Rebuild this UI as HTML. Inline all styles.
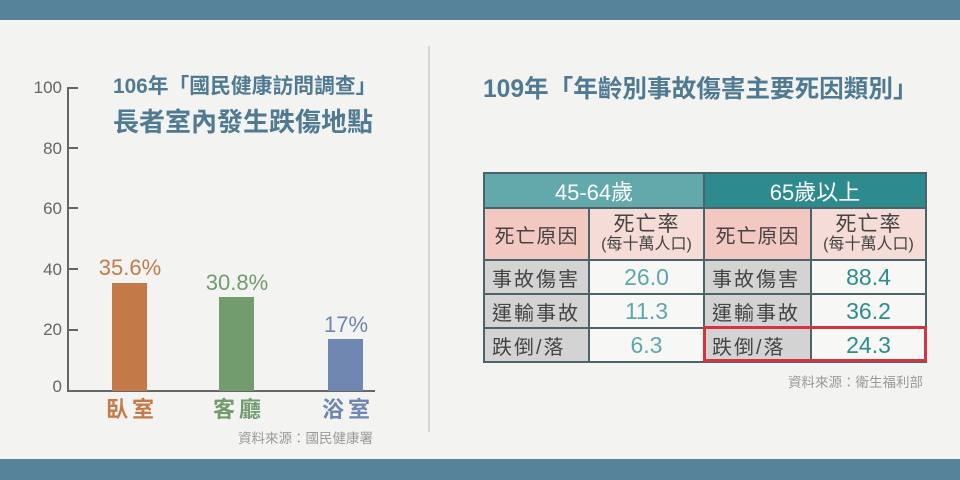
<!DOCTYPE html>
<html><head><meta charset="utf-8">
<style>
*{margin:0;padding:0;box-sizing:border-box}
body{width:960px;height:480px;background:#f3f3f1;position:relative;overflow:hidden;font-family:"Liberation Sans","Noto Sans CJK TC",sans-serif}
.band{position:absolute;left:0;width:960px;background:#56839a}
.abs{position:absolute;white-space:nowrap}
.tick{position:absolute;width:58px;text-align:right;left:4px;font-size:17px;color:#666;line-height:20px}
.tk{position:absolute;left:68px;width:10px;height:2px;background:#666}
.bar{position:absolute;width:35px}
.val{position:absolute;width:120px;text-align:center;font-size:22px;line-height:24px}
.cat{position:absolute;width:120px;text-align:center;font-size:22px;font-weight:bold;letter-spacing:4px;line-height:26px}
table{position:absolute;left:483px;top:172px;border-collapse:collapse;font-family:"Liberation Sans","Noto Sans CJK TC",sans-serif}
td{border:2px solid #4b6469;text-align:center;padding:0;color:#444}
.h1{background:#63a9ac;color:#fff;font-size:22px;height:35px}
.h2{background:#2e8b8d;color:#fff;font-size:22px;height:35px}
.pk{background:#f2c8c0;font-size:20px;height:52px;letter-spacing:1px}
.pk2{background:#f5dcd6;font-size:21px;height:52px;line-height:21px;letter-spacing:1px}
.pk2 small{display:block;font-size:16px;line-height:19px;letter-spacing:0}
.lb{background:#d3d3d3;font-size:20px;height:34px;letter-spacing:2px;text-align:left;padding-left:7px}
.v1{background:#f7f7f6;color:#5ea7ab;font-size:23px}
.v2{background:#f7f7f6;color:#2a8c8e;font-size:23px}
</style></head><body>
<div class="band" style="top:0;height:20px"></div>
<div class="band" style="top:459px;height:21px"></div>
<div class="abs" style="left:428px;top:46px;width:2px;height:386px;background:#d6d6d4"></div>

<!-- left chart -->
<div class="abs" style="left:113px;top:75px;font-size:20.8px;font-weight:bold;color:#4f7a92;line-height:24px">106年「國民健康訪問調查」</div>
<div class="abs" style="left:113px;top:107px;font-size:26px;font-weight:bold;color:#4f7a92;line-height:30px">長者室內發生跌傷地點</div>

<div class="abs" style="left:67px;top:87px;width:2px;height:305px;background:#666"></div>
<div class="abs" style="left:67px;top:390px;width:308px;height:2px;background:#666"></div>
<div class="tk" style="top:87px"></div>
<div class="tk" style="top:147px"></div>
<div class="tk" style="top:207px"></div>
<div class="tk" style="top:268px"></div>
<div class="tk" style="top:329px"></div>
<div class="tick" style="top:78px">100</div>
<div class="tick" style="top:139px">80</div>
<div class="tick" style="top:199px">60</div>
<div class="tick" style="top:260px">40</div>
<div class="tick" style="top:320px">20</div>
<div class="tick" style="top:377px">0</div>

<div class="bar" style="left:112px;top:283px;height:108px;background:#c47a48"></div>
<div class="bar" style="left:219px;top:297px;height:94px;background:#729b6e"></div>
<div class="bar" style="left:328px;top:339px;height:52px;background:#6f86b1"></div>
<div class="val" style="left:70px;top:256px;color:#c47a48">35.6%</div>
<div class="val" style="left:177px;top:271px;color:#729b6e">30.8%</div>
<div class="val" style="left:286px;top:313px;color:#6f86b1">17%</div>
<div class="cat" style="left:72px;top:397px;color:#c47a48">臥室</div>
<div class="cat" style="left:179px;top:397px;color:#729b6e">客廳</div>
<div class="cat" style="left:288px;top:397px;color:#6f86b1">浴室</div>
<div class="abs" style="left:238px;top:431px;font-size:13.5px;color:#999;line-height:16px">資料來源：國民健康署</div>

<!-- right -->
<div class="abs" style="left:483px;top:76px;font-size:24.6px;font-weight:bold;color:#4f7a92;line-height:28px">109年「年齡別事故傷害主要死因類別」</div>

<table>
<tr><td class="h1" colspan="2" style="width:220px">45-64歲</td><td class="h2" colspan="2" style="width:222px">65歲以上</td></tr>
<tr><td class="pk" style="width:105px">死亡原因</td><td class="pk2" style="width:115px">死亡率<small>(每十萬人口)</small></td><td class="pk" style="width:107px">死亡原因</td><td class="pk2" style="width:115px">死亡率<small>(每十萬人口)</small></td></tr>
<tr><td class="lb">事故傷害</td><td class="v1">26.0</td><td class="lb">事故傷害</td><td class="v2">88.4</td></tr>
<tr><td class="lb">運輸事故</td><td class="v1">11.3</td><td class="lb">運輸事故</td><td class="v2">36.2</td></tr>
<tr><td class="lb">跌倒/落</td><td class="v1">6.3</td><td class="lb">跌倒/落</td><td class="v2">24.3</td></tr>
</table>
<div class="abs" style="left:703px;top:326px;width:224px;height:36px;border:3px solid #d4333f"></div>
<div class="abs" style="left:788px;top:375px;font-size:13.5px;color:#999;line-height:16px">資料來源：衛生福利部</div>
</body></html>
